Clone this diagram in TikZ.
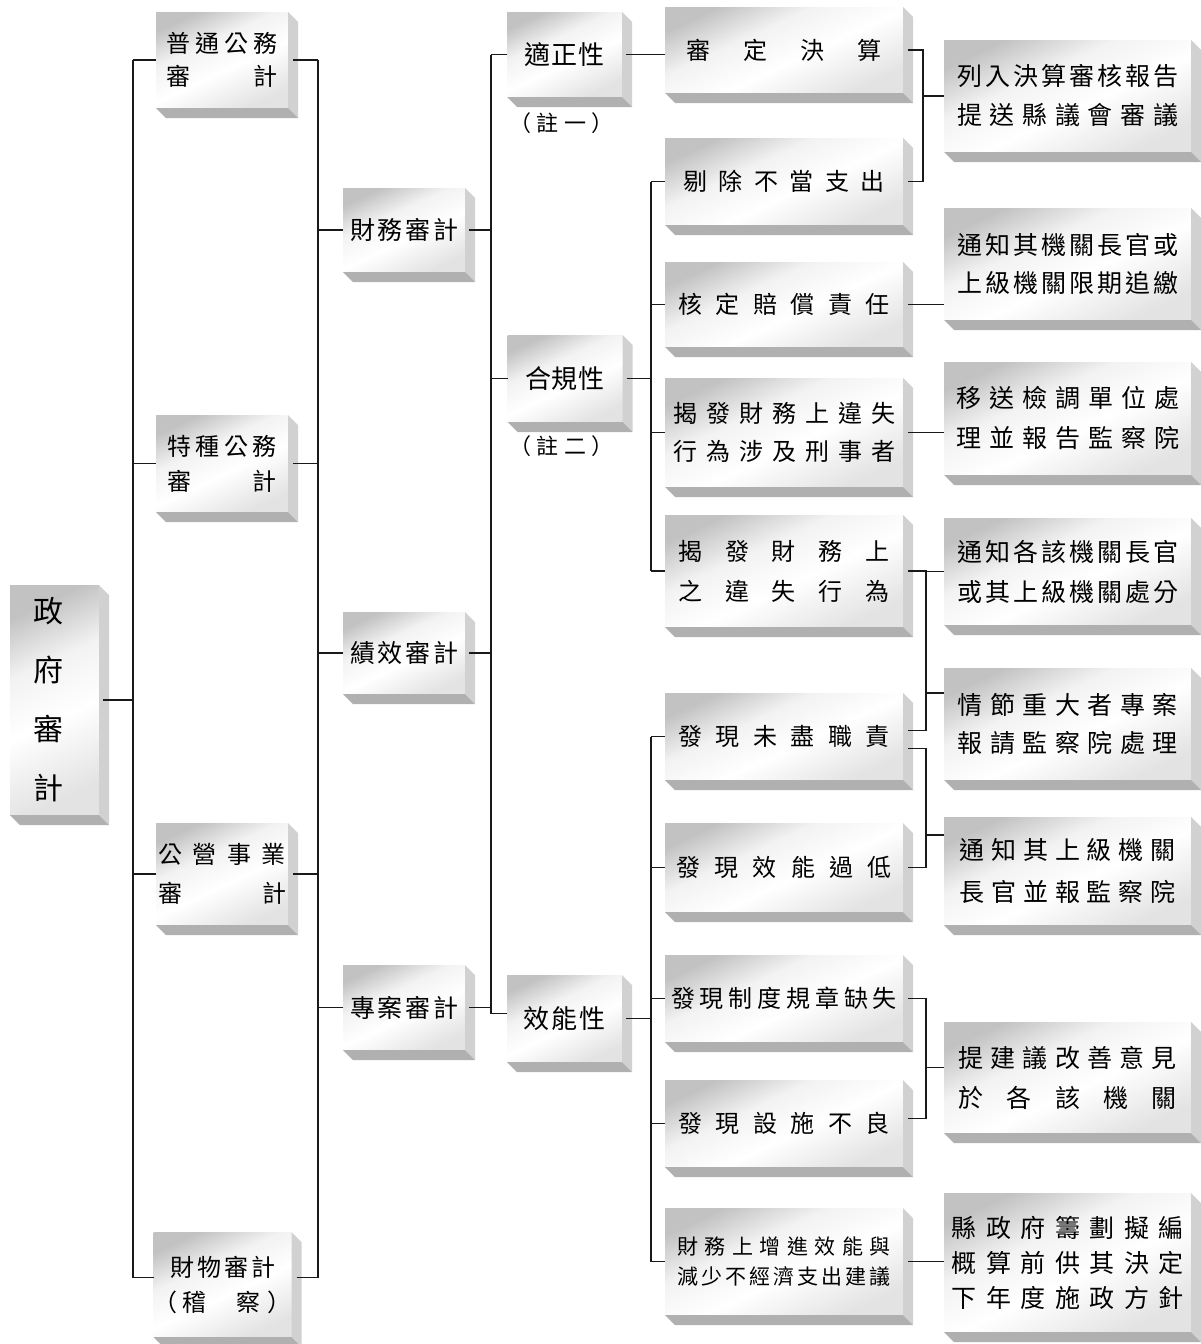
\documentclass[tikz,border=0pt]{standalone}
\usepackage{fontspec}
\setmainfont{Noto Sans CJK TC}
\usetikzlibrary{calc}
\makeatletter
\newcommand\spr[2]{\makebox[#1][s]{\spr@a#2\@nil}}
\def\spr@a#1{#1\spr@b}
\def\spr@b#1{\ifx\@nil#1\else\hfil#1\expandafter\spr@b\fi}
\makeatother
\pgfdeclareverticalshading{frontsh}{100bp}{color(0bp)=(gray!22); color(25bp)=(gray!22); color(45bp)=(white); color(60bp)=(white!95!black); color(75bp)=(gray!48); color(100bp)=(gray!48)}
\tikzset{
  box/.style={shade, shading=frontsh, shading angle=25, inner sep=0pt, outer sep=0pt, align=center, text=black},
  colB/.style={box, minimum width=132pt},
  colC/.style={box, minimum width=122pt, font=\fontsize{25}{30}\selectfont},
  colD/.style={box, minimum width=115pt, font=\fontsize{26}{30}\selectfont},
  colE/.style={box, minimum width=238pt},
  colF/.style={box, minimum width=247pt},
  notelabel/.style={inner sep=0pt, font=\fontsize{22}{24}\selectfont},
  sideface/.style={fill=gray!36},
  botface/.style={fill=gray!62},
  link/.style={line width=1.6pt, black!90},
}
\begin{document}
\begin{tikzpicture}[x=1pt,y=-1pt]
\fill[white] (0,0) rectangle (1201,1344);
\useasboundingbox (0,0) rectangle (1201,1344);

% column 1
\node[box, minimum width=89pt, minimum height=230pt, font=\fontsize{30}{59}\selectfont] (A) at (54.5,700) {\hspace*{-12pt}政\\\hspace*{-12pt}府\\\hspace*{-12pt}審\\\hspace*{-12pt}計};

% column 2
\node[colB, minimum height=96pt, font=\fontsize{24}{33}\selectfont] (B1) at (222,60) {\spr{112pt}{普通公務}\\\spr{112pt}{審計}};
\node[colB, minimum height=97pt, font=\fontsize{24}{35}\selectfont] (B2) at (222,463.5) {\spr{110pt}{特種公務}\\\spr{110pt}{審計}};
\node[colB, minimum height=102pt, font=\fontsize{24}{39}\selectfont] (B3) at (222,874) {\spr{128pt}{公營事業}\\\spr{128pt}{審計}};
\node[colB, minimum height=105pt, font=\fontsize{24}{35}\selectfont] (B4) at (222.5,1284.5) {\spr{105pt}{財物審計}\\（\hspace{5pt}稽\hspace{30pt}察\hspace{7pt}）};

% column 3
\node[colC, minimum height=84pt] (C1) at (404,230) {\spr{108pt}{財務審計}};
\node[colC, minimum height=82pt] (C2) at (404,653) {\spr{108pt}{績效審計}};
\node[colC, minimum height=85pt] (C3) at (404,1007.5) {\spr{108pt}{專案審計}};

% column 4
\node[colD, minimum height=85pt] (D1) at (564.5,54.5) {\spr{80pt}{適正性}};
\node[colD, minimum height=87pt] (D2) at (565,378.5) {\spr{80pt}{合規性}};
\node[colD, minimum height=87pt] (D3) at (564.5,1018.5) {\spr{83pt}{效能性}};
\node[notelabel] (n1) at (561.5,123) {（\hspace{6pt}註\hspace{6pt}一\hspace{5pt}）};
\node[notelabel] (n2) at (561.5,446) {（\hspace{6pt}註\hspace{6pt}二\hspace{5pt}）};

% column 5
\node[colE, minimum height=86pt, font=\fontsize{24}{30}\selectfont] (E1) at (784,50) {\spr{195pt}{審定決算}};
\node[colE, minimum height=87pt, font=\fontsize{24}{30}\selectfont] (E2) at (784,181.5) {\spr{202pt}{剔除不當支出}};
\node[colE, minimum height=85pt, font=\fontsize{24}{30}\selectfont] (E3) at (784,304.5) {\spr{211pt}{核定賠償責任}};
\node[colE, minimum height=109pt, font=\fontsize{24}{38}\selectfont] (E4) at (784,432.5) {\spr{222pt}{揭發財務上違失}\\\spr{222pt}{行為涉及刑事者}};
\node[colE, minimum height=112pt, font=\fontsize{24}{40}\selectfont] (E5) at (784,571) {\spr{211pt}{揭發財務上}\\\spr{211pt}{之違失行為}};
\node[colE, minimum height=87pt, font=\fontsize{24}{30}\selectfont] (E6) at (784,736.5) {\spr{211pt}{發現未盡職責}};
\node[colE, minimum height=89pt, font=\fontsize{24}{30}\selectfont] (E7) at (784,867.5) {\spr{215pt}{發現效能過低}};
\node[colE, minimum height=87pt, font=\fontsize{24}{30}\selectfont] (E8) at (784,998.5) {\spr{226pt}{發現制度規章缺失}};
\node[colE, minimum height=87pt, font=\fontsize{24}{30}\selectfont] (E9) at (784,1123.5) {\spr{211pt}{發現設施不良}};
\node[colE, minimum height=107pt, font=\fontsize{21}{30}\selectfont] (E10) at (784,1261.5) {\spr{214pt}{財務上增進效能與}\\\spr{214pt}{減少不經濟支出建議}};

% column 6
\node[colF, minimum height=112pt, font=\fontsize{25}{39}\selectfont] (F1) at (1067.5,96) {\spr{221pt}{列入決算審核報告}\\\spr{221pt}{提送縣議會審議}};
\node[colF, minimum height=112pt, font=\fontsize{25}{38}\selectfont] (F2) at (1067.5,264) {\spr{221pt}{通知其機關長官或}\\\spr{221pt}{上級機關限期追繳}};
\node[colF, minimum height=113pt, font=\fontsize{25}{40}\selectfont] (F3) at (1067.5,418.5) {\spr{223pt}{移送檢調單位處}\\\spr{223pt}{理並報告監察院}};
\node[colF, minimum height=107pt, font=\fontsize{25}{40}\selectfont] (F4) at (1067.5,571.5) {\spr{221pt}{通知各該機關長官}\\\spr{221pt}{或其上級機關處分}};
\node[colF, minimum height=112pt, font=\fontsize{25}{38}\selectfont] (F5) at (1067.5,724) {\spr{220pt}{情節重大者專案}\\\spr{220pt}{報請監察院處理}};
\node[colF, minimum height=108pt, font=\fontsize{25}{42}\selectfont] (F6) at (1067.5,871) {\spr{216pt}{通知其上級機關}\\\spr{216pt}{長官並報監察院}};
\node[colF, minimum height=111pt, font=\fontsize{25}{40}\selectfont] (F7) at (1067.5,1077.5) {\spr{218pt}{提建議改善意見}\\\spr{218pt}{於各該機關}};
\node[colF, minimum height=139pt, font=\fontsize{25}{35}\selectfont] (F8) at (1067.5,1262.5) {\spr{232pt}{縣政府籌劃擬編}\\\spr{232pt}{概算前供其決定}\\\spr{232pt}{下年度施政方針}};

% 3D extrusion of every box
\foreach \n in {A,B1,B2,B3,B4,C1,C2,C3,D1,D2,D3,E1,E2,E3,E4,E5,E6,E7,E8,E9,E10,F1,F2,F3,F4,F5,F6,F7,F8} {
  \fill[sideface] (\n.north east) -- ++(10,10) -- ([shift={(10,10)}]\n.south east) -- (\n.south east) -- cycle;
  \fill[botface] (\n.south west) -- (\n.south east) -- ([shift={(10,10)}]\n.south east) -- ([shift={(10,10)}]\n.south west) -- cycle;
}

% bus lines
\coordinate (bA) at (133,0);
\coordinate (bB) at (318,0);
\coordinate (bC) at (491,0);
\coordinate (bD) at (651,0);
\coordinate (bE1) at (923,0);
\coordinate (bE2) at (926,0);

% level 1
\draw[link] ([xshift=4pt]A.east) -- (A.east -| bA);
\draw[link] (B1.west -| bA) -- ([yshift=7pt]B4.west -| bA);
\foreach \n in {B1,B2,B3} \draw[link] (\n.west -| bA) -- (\n.west);
\draw[link] ([yshift=7pt]B4.west -| bA) -- ([yshift=7pt]B4.west);

% level 2
\foreach \n in {B1,B2,B3} \draw[link] ([xshift=5pt]\n.east) -- (\n.east -| bB);
\draw[link] ([shift={(5pt,7pt)}]B4.east) -- ([yshift=7pt]B4.east -| bB);
\draw[link] (B1.east -| bB) -- ([yshift=7pt]B4.east -| bB);
\foreach \n in {C1,C2,C3} \draw[link] (\n.west -| bB) -- (\n.west);

% level 3
\foreach \n in {C1,C2,C3} \draw[link] ([xshift=4pt]\n.east) -- (\n.east -| bC);
\draw[link] (D1.west -| bC) -- ([yshift=5pt]D3.west -| bC);
\draw[link] (D1.west -| bC) -- (D1.west);
\draw[link] (D2.west -| bC) -- (D2.west);
\draw[link] ([yshift=5pt]D3.west -| bC) -- ([yshift=5pt]D3.west);

% level 4
\draw[link] ([xshift=4pt]D1.east) -- (D1.east -| E1.west);
\draw[link] ([xshift=4pt]D2.east) -- (D2.east -| bD);
\draw[link] (E2.west -| bD) -- (E5.west -| bD);
\foreach \n in {E2,E3,E4,E5} \draw[link] (\n.west -| bD) -- (\n.west);
\draw[link] ([xshift=4pt]D3.east) -- (D3.east -| bD);
\draw[link] (E6.west -| bD) -- (E10.west -| bD);
\foreach \n in {E6,E7,E8,E9,E10} \draw[link] (\n.west -| bD) -- (\n.west);

% level 5
\draw[link] ([xshift=5pt]E1.east) -- (E1.east -| bE1) -- (E2.east -| bE1) -- ([xshift=5pt]E2.east);
\draw[link] (F1.west -| bE1) -- (F1.west);
\draw[link] ([xshift=5pt]E3.east) -- (E3.east -| F2.west);
\draw[link] ([xshift=5pt]E4.east) -- (E4.east -| F3.west);
\draw[link] ([xshift=5pt]E5.east) -- (E5.east -| bE2) -- ([yshift=6pt]E6.east -| bE2) -- ([shift={(5pt,6pt)}]E6.east);
\draw[link] (F4.west -| bE2) -- (F4.west);
\draw[link] ([yshift=31pt]F5.west -| bE2) -- ([yshift=31pt]F5.west);
\draw[link] ([shift={(5pt,-12pt)}]E6.east) -- ([yshift=-12pt]E6.east -| bE2) -- (E7.east -| bE2) -- ([xshift=5pt]E7.east);
\draw[link] ([yshift=36pt]F6.west -| bE2) -- ([yshift=36pt]F6.west);
\draw[link] ([xshift=5pt]E8.east) -- (E8.east -| bE2) -- ([yshift=5pt]E9.east -| bE2) -- ([shift={(5pt,5pt)}]E9.east);
\draw[link] ([yshift=10pt]F7.west -| bE2) -- ([yshift=10pt]F7.west);
\draw[link] ([xshift=5pt]E10.east) -- (E10.east -| F8.west);
\end{tikzpicture}
\end{document}
